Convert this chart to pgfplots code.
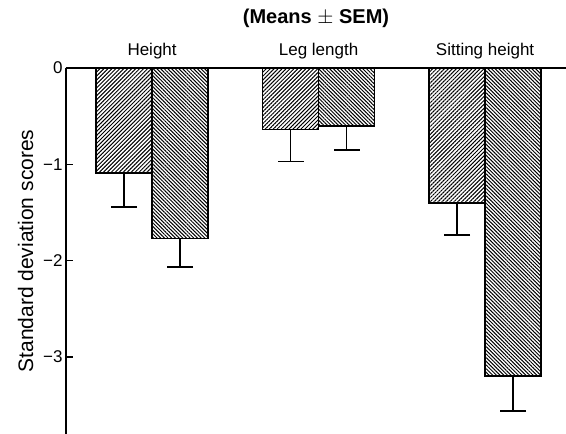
\documentclass[border=0pt]{standalone}
\usepackage{pgfplots}
\pgfplotsset{compat=1.18}
\usepackage{fontspec}
\setmainfont{Liberation Sans}
\usetikzlibrary{patterns.meta}
\begin{document}
\begin{tikzpicture}
\path[use as bounding box] (-66pt,0pt) rectangle (500pt,434pt);
\begin{axis}[
  at={(0pt,0pt)}, anchor=south west,
  scale only axis, width=500pt, height=366pt,
  xmin=-0.517, xmax=2.486, ymin=-3.80, ymax=0,
  axis x line*=top, axis y line*=left,
  axis line style={line width=1.6pt, -},
  xtick={0,1,2}, xticklabels={Height, Leg length, Sitting height},
  x tick label style={font=\fontsize{17}{20}\selectfont, anchor=center, yshift=10pt},
  major x tick style={draw=none},
  ytick={-3,-2,-1,0},
  yticklabels={−3,−2,−1,0},
  y tick label style={font=\fontsize{17}{20}\selectfont},
  tick align=inside, major tick length=7pt,
  major y tick style={line width=1.4pt, black},
  ylabel={Standard deviation scores},
  ylabel style={font=\fontsize{21}{24}\selectfont, yshift=3pt},
  title={\textbf{(Means $\pm$ SEM)}},
  title style={font=\fontsize{20}{23}\selectfont, at={(0.5,1)}, anchor=center, yshift=44pt},
  ybar=0pt, bar width=56pt,
  clip=false,
]
\addplot+[draw=black, line width=1.6pt,
  pattern={Lines[angle=45, distance=2.8pt, line width=1pt]}, pattern color=black,
  error bars/.cd, y dir=minus, y explicit,
  error bar style={line width=1.4pt, black},
  error mark options={rotate=90, mark size=13pt, line width=1.8pt, black}]
  coordinates {(0,-1.09) -= (0,0.35) (1,-0.64) -= (0,0.33) (2,-1.40) -= (0,0.33)};
\addplot+[draw=black, line width=1.6pt,
  pattern={Lines[angle=-45, distance=2.6pt, line width=1pt]}, pattern color=black,
  error bars/.cd, y dir=minus, y explicit,
  error bar style={line width=1.4pt, black},
  error mark options={rotate=90, mark size=13pt, line width=1.8pt, black}]
  coordinates {(0,-1.77) -= (0,0.30) (1,-0.60) -= (0,0.25) (2,-3.20) -= (0,0.36)};
\end{axis}
\end{tikzpicture}
\end{document}
